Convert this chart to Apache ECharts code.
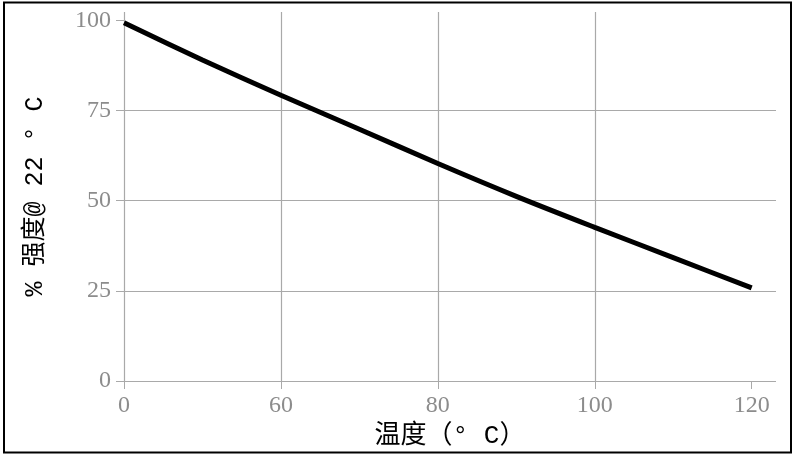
<!DOCTYPE html>
<html lang="zh">
<head>
    <meta charset="UTF-8">
    <title>强度-温度</title>
    <style>
        html, body { margin: 0; padding: 0; background: #fff; }
    </style>
</head>
<body>
    <div id="chart" style="width: 798px;height:465px"></div>
    <script src="https://cdn.jsdelivr.net/npm/echarts@6/dist/echarts.min.js"></script>
    <script type="text/javascript">
       // 横轴刻度文字（刻度等距排列）
       var xTickLabels = ['0', '60', '80', '100', '120'];
       // 曲线取样点：横轴刻度位置（0 = 第一个刻度）
       var xSlots = [0, 0.5, 1, 1.5, 2, 2.5, 3, 3.5, 4];
       // % 强度 @ 22°C
       var strength = [99.3, 89, 79.2, 69.8, 60.3, 51.2, 42.6, 34.2, 25.8];
       var yTicks = [0, 25, 50, 75, 100];

       var chart = echarts.init(document.getElementById('chart'));

       var lineData = [];
       for (var i = 0; i < xSlots.length; i++) {
           lineData.push([xSlots[i], strength[i]]);
       }

       var gridGray = '#a9a9a9';
       var labelGray = '#8c8c8c';
       var nameFont = '"Liberation Mono", "Noto Sans CJK SC", monospace';

       var option = {
           animation: false,
           grid: { left: 124, right: 22, top: 12, bottom: 84 },
           graphic: [{
               type: 'rect',
               shape: { x: 4, y: 2.5, width: 787, height: 450 },
               style: { fill: 'none', stroke: '#000', lineWidth: 2 }
           }],
           xAxis: {
               type: 'value',
               min: 0,
               max: 4.155,
               interval: 1,
               name: '温度（° C）',
               nameLocation: 'middle',
               nameGap: 35,
               nameTextStyle: { color: '#000', fontSize: 26, fontFamily: nameFont },
               axisLine: { show: false },
               axisTick: { show: true, length: 8, customValues: [0, 1, 2, 3, 4],
                           lineStyle: { color: gridGray } },
               axisLabel: {
                   color: labelGray, fontSize: 24, margin: 13,
                   fontFamily: '"Liberation Serif", serif',
                   customValues: [0, 1, 2, 3, 4],
                   formatter: function (v) {
                       return v === Math.round(v) ? xTickLabels[v] : '';
                   }
               },
               splitLine: { show: true, showMaxLine: false, lineStyle: { color: gridGray, width: 1.2 } }
           },
           yAxis: {
               type: 'value',
               min: 0,
               max: 102.3,
               interval: 25,
               name: '% 强度@ 22 ° C',
               nameLocation: 'middle',
               nameGap: 76,
               nameTextStyle: { color: '#000', fontSize: 25, fontFamily: nameFont },
               axisLine: { show: false },
               axisTick: { show: true, length: 8, customValues: yTicks,
                           lineStyle: { color: gridGray } },
               axisLabel: {
                   color: labelGray, fontSize: 24, margin: 13,
                   fontFamily: '"Liberation Serif", serif',
                   customValues: yTicks,
                   formatter: function (v) { return v % 25 === 0 ? String(v) : ''; }
               },
               splitLine: { show: true, showMaxLine: false, lineStyle: { color: gridGray, width: 1.2 } }
           },
           series: [{
               type: 'line',
               data: lineData,
               smooth: 0.3,
               symbol: 'none',
               lineStyle: { color: '#000', width: 5 }
           }]
       };
       chart.setOption(option);
    </script>
</body>
</html>
